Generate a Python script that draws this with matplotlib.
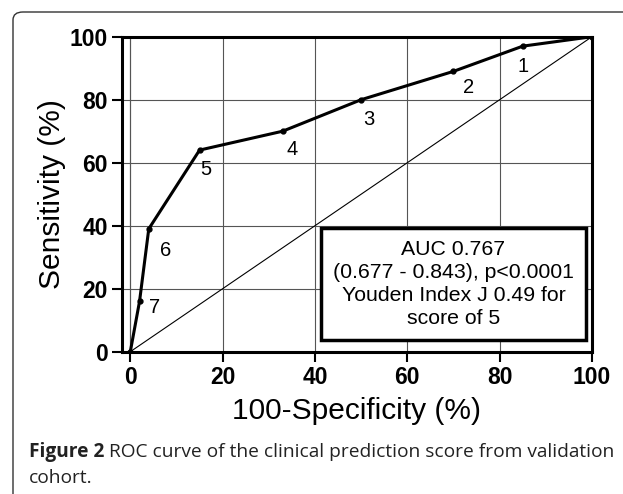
import matplotlib.pyplot as plt
from matplotlib.patches import FancyBboxPatch

# ROC points (100-specificity, sensitivity) and score labels
fpr = [0, 2, 4, 15, 33, 50, 70, 85, 100]
tpr = [0, 16, 39, 64, 70, 80, 89, 97, 100]
scores = ['', '7', '6', '5', '4', '3', '2', '1', '']
label_dx = [0, 3.3, 3.6, 1.4, 2, 1.6, 3.2, 0, 0]
label_dy = [0, -2, -7, -6.3, -5.7, -6.3, -5, -6.6, 0]

ticks = [0, 20, 40, 60, 80, 100]
box_text = "AUC 0.767\n(0.677 - 0.843), p<0.0001\nYouden Index J 0.49 for\nscore of 5"
caption_bold = "Figure 2"
caption_rest = " ROC curve of the clinical prediction score from validation"
caption_line2 = "cohort."

plt.rcParams['font.family'] = ['Liberation Sans', 'DejaVu Sans']

fig = plt.figure(figsize=(6.23, 4.94), dpi=100)
W, H = 623, 494

# outer rounded frame (cut off at right and bottom)
frame = FancyBboxPatch((13 / W, -0.1), 1.1, 1 - 12 / H + 0.1,
                       boxstyle='round,pad=0,rounding_size=0.016',
                       transform=fig.transFigure, facecolor='none',
                       edgecolor='#333333', linewidth=1.0, zorder=1)
fig.patches.append(frame)

ax = fig.add_axes([122 / W, 1 - 351.7 / H, (592 - 122) / W, (351.7 - 36.7) / H])
ax.set_xlim(-1.8, 100)
ax.set_ylim(0, 100)

ax.grid(True, color='#555555', linewidth=0.8)
ax.axvline(0, color='#555555', linewidth=0.8, zorder=0.5)
ax.set_axisbelow(True)

ax.plot([0, 100], [0, 100], color='black', linewidth=0.8)
ax.plot(fpr, tpr, color='black', linewidth=2.2, marker='o', markersize=3.5)

for x, y, s, dx, dy in zip(fpr, tpr, scores, label_dx, label_dy):
    if s:
        ax.text(x + dx, y + dy, s, fontsize=14.5, ha='center', va='center')

ax.text(70, 21.5, box_text, fontsize=15.3, ha='center', va='center',
        linespacing=1.28,
        bbox=dict(boxstyle='square,pad=0.55', facecolor='white',
                  edgecolor='black', linewidth=2.5))

ax.set_xticks(ticks)
ax.set_yticks(ticks)
ax.tick_params(axis='both', direction='out', length=7, width=1.5,
               labelsize=16.5, pad=3)
for lab in ax.get_xticklabels() + ax.get_yticklabels():
    lab.set_fontweight('bold')
for sp in ax.spines.values():
    sp.set_linewidth(2.2)

ax.set_xlabel('100-Specificity (%)', fontsize=21.5, labelpad=6)
ax.set_ylabel('Sensitivity (%)', fontsize=21.5, labelpad=3)

t1 = fig.text(29 / W, 1 - 452 / H, caption_bold, fontsize=13.8,
              fontweight='bold', family='Open Sans', va='center',
              color='#222222')
fig.canvas.draw()
bb = t1.get_window_extent()
fig.text(bb.x1 / W, 1 - 452 / H, caption_rest, fontsize=13.8,
         family='Open Sans', va='center', color='#222222')
fig.text(29 / W, 1 - 478 / H, caption_line2, fontsize=13.8,
         family='Open Sans', va='center', color='#222222')

fig.savefig('out.png', dpi=100)
